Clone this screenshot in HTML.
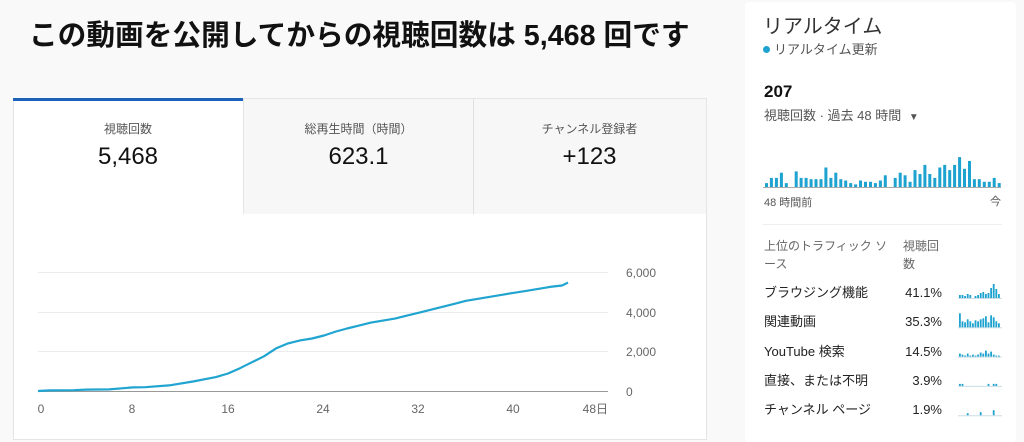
<!DOCTYPE html>
<html><head><meta charset="utf-8"><style>
body{margin:0;width:1024px;height:433px;background:#f9f9f9;font-family:"Liberation Sans","Noto Sans CJK JP",sans-serif;overflow:hidden;position:relative;color:#0d0d0d}
.abs{position:absolute;white-space:nowrap}
</style></head><body>
<div class="abs" style="left:29px;top:16px;font-size:28.7px;font-weight:bold;color:#111;line-height:40px">この動画を公開してからの視聴回数は 5,468 回です</div>

<div class="abs" style="left:13px;top:98px;width:692px;height:340px;background:#fff;border:1px solid #e5e5e5"></div>
<div class="abs" style="left:243px;top:99px;width:462px;height:115px;background:#f7f7f7;border-left:1px solid #e5e5e5"></div>
<div class="abs" style="left:473px;top:99px;width:1px;height:115px;background:#e0e0e0"></div>
<div class="abs" style="left:13px;top:98px;width:230px;height:3px;background:#1c62b9"></div>

<div class="abs" style="left:13px;top:120px;width:230px;text-align:center;font-size:12px;color:#555">視聴回数</div>
<div class="abs" style="left:13px;top:143px;width:230px;text-align:center;font-size:24px;color:#111">5,468</div>
<div class="abs" style="left:243px;top:120px;width:231px;text-align:center;font-size:12px;color:#555">総再生時間（時間）</div>
<div class="abs" style="left:243px;top:143px;width:231px;text-align:center;font-size:24px;color:#111">623.1</div>
<div class="abs" style="left:474px;top:120px;width:231px;text-align:center;font-size:12px;color:#555">チャンネル登録者</div>
<div class="abs" style="left:474px;top:143px;width:231px;text-align:center;font-size:24px;color:#111">+123</div>

<svg class="abs" style="left:0;top:0" width="720" height="433">
<g stroke="#ececec" stroke-width="1">
<line x1="38" y1="272.5" x2="608" y2="272.5"/><line x1="38" y1="312.5" x2="608" y2="312.5"/><line x1="38" y1="351.5" x2="608" y2="351.5"/>
</g>
<line x1="38" y1="391.5" x2="608" y2="391.5" stroke="#999"/>
<g font-size="12" fill="#666" font-family="Liberation Sans,Noto Sans CJK JP,sans-serif">
<text x="626" y="277">6,000</text><text x="626" y="317">4,000</text><text x="626" y="356">2,000</text><text x="626" y="396">0</text>
<text x="41" y="413" text-anchor="middle">0</text><text x="132" y="413" text-anchor="middle">8</text><text x="228" y="413" text-anchor="middle">16</text><text x="323" y="413" text-anchor="middle">24</text><text x="418" y="413" text-anchor="middle">32</text><text x="513" y="413" text-anchor="middle">40</text><text x="608" y="413" text-anchor="end">48日</text>
</g>
<polyline fill="none" stroke="#20a4d0" stroke-width="2.2" stroke-linejoin="round" points="38,391 50,390.4 74,390.2 86,389.6 109,389.4 133,387.4 145,387.2 169,385.4 193,381.5 216,377.1 228,373.5 240,368.2 252,362.2 264,356.3 276,348.4 288,343.4 300,340.4 312,338.5 324,335.5 336,331.5 347,328.5 359,325.6 371,322.6 383,320.6 395,318.6 407,315.6 419,312.7 431,309.7 443,306.7 455,303.7 466,300.8 478,298.8 490,296.8 502,294.8 514,292.8 526,290.9 538,288.9 550,286.9 562,285.5 568,282.6"/>
</svg>

<div class="abs" style="left:745px;top:2px;width:271px;height:440px;background:#fff;border-radius:4px"></div>
<div class="abs" style="left:763px;top:14px;font-size:20px;line-height:26px;color:#333">リアルタイム</div>
<div class="abs" style="left:763px;top:46px;width:7px;height:7px;border-radius:50%;background:#1ea2cf"></div>
<div class="abs" style="left:774px;top:41px;font-size:13px;line-height:18px;color:#555">リアルタイム更新</div>
<div class="abs" style="left:764px;top:82px;font-size:17px;line-height:20px;font-weight:bold;color:#111">207</div>
<div class="abs" style="left:764px;top:107px;font-size:13px;line-height:18px;color:#555">視聴回数 · 過去 48 時間 <span style="font-size:10px;margin-left:4px">▼</span></div>
<svg class="abs" style="left:760px;top:150px" width="250" height="40" id="rt"></svg>
<div class="abs" style="left:764px;top:196px;font-size:11px;line-height:15px;color:#555">48 時間前</div>
<div class="abs" style="left:990px;top:195px;font-size:11px;line-height:15px;color:#555">今</div>
<div class="abs" style="left:763px;top:224px;height:1px;width:239px;background:#eee"></div>

<div class="abs" style="left:764px;top:237px;font-size:12px;line-height:18px;color:#666">上位のトラフィック ソ<br>ース</div>
<div class="abs" style="left:903px;top:237px;font-size:12px;line-height:18px;color:#666">視聴回<br>数</div>
<div class="abs" style="left:764px;top:278px;font-size:13px;color:#222;line-height:29.3px">ブラウジング機能<br>関連動画<br>YouTube 検索<br>直接、または不明<br>チャンネル ページ</div>
<div class="abs" style="left:880px;top:278px;width:62px;text-align:right;font-size:13px;color:#222;line-height:29.3px">41.1%<br>35.3%<br>14.5%<br>3.9%<br>1.9%</div>
<svg class="abs" style="left:958px;top:278px" width="44" height="150" id="sp"></svg>
<script>
var h=[3,7,7,11,3,0,12,7,7,6,6,6,15,7,11,6,5,3,2,5,4,4,3,5,9,0,7,11,9,4,13,10,17,10,7,15,17,13,17,23,14,20,6,6,4,4,7,3];
var s='';for(var i=0;i<h.length;i++){var x=5+i*4.95;if(h[i])s+='<rect x="'+x.toFixed(1)+'" y="'+(37-h[i]*1.3)+'" width="3" height="'+(h[i]*1.3)+'" fill="#1ea2cf"/>';}
s+='<line x1="3" y1="37.5" x2="241" y2="37.5" stroke="#aaa"/>';
document.getElementById('rt').innerHTML=s;
var rows=[[3,3,2,4,3,0,2,3,5,6,4,5,10,14,9,4],[14,6,5,8,6,4,7,6,8,9,11,5,12,10,6,4],[3,2,1,3,1,2,1,2,4,3,6,3,5,2,1,1],[2,2,0,0,0,0,0,0,0,0,0,2,0,2,2,0],[0,0,0,2,0,0,0,0,3,0,0,0,0,5,0,0]];
var t='';rows.forEach(function(r,j){var b=20+j*29.3;t+='<line x1="0" y1="'+(b+.5)+'" x2="44" y2="'+(b+.5)+'" stroke="#c8dde6"/>';r.forEach(function(v,i){if(v)t+='<rect x="'+(1+i*2.6)+'" y="'+(b-v)+'" width="1.8" height="'+v+'" fill="#1ea2cf"/>';});});
document.getElementById('sp').innerHTML=t;
</script>
</body></html>
